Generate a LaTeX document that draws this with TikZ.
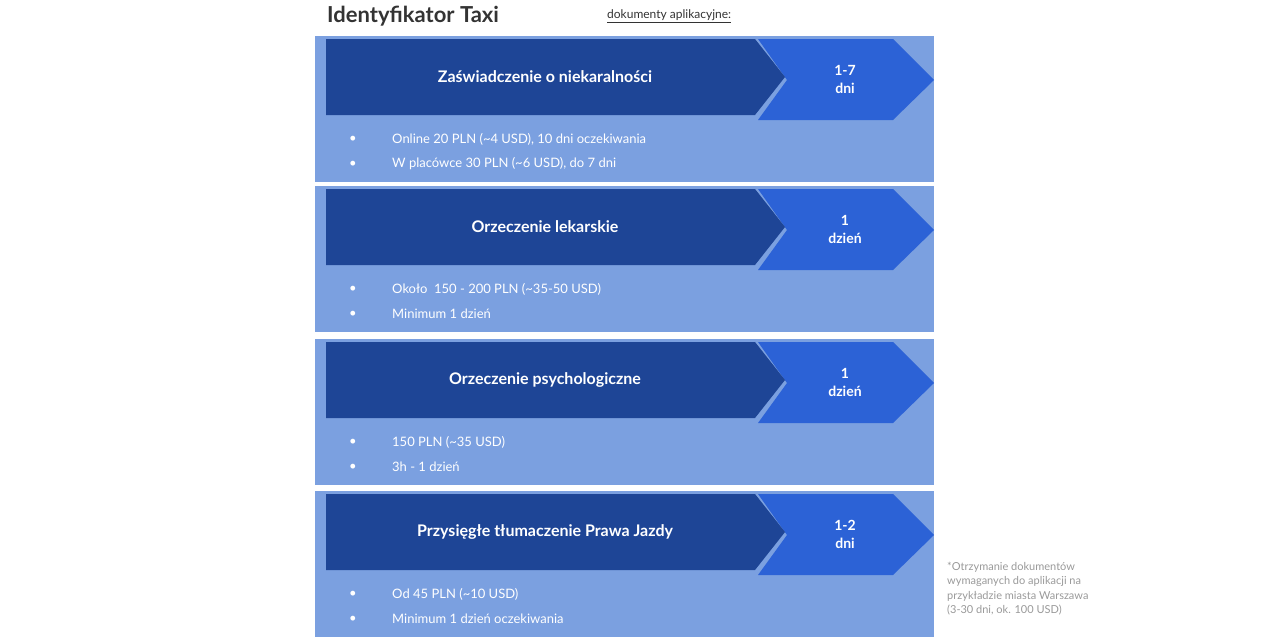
\documentclass[tikz,border=0pt]{standalone}
\usepackage{fontspec}
\setmainfont{Lato}
\usetikzlibrary{positioning}
\definecolor{panelblue}{HTML}{7BA0E0}
\definecolor{darkblue}{HTML}{1E4596}
\definecolor{midblue}{HTML}{2C62D6}
\definecolor{titlegray}{HTML}{333333}
\tikzset{
  headtext/.style={text=white, font=\bfseries\fontsize{16}{19}\selectfont, align=center},
  daystext/.style={text=white, font=\bfseries\fontsize{14}{18}\selectfont, align=center},
  bullettext/.style={text=white, font=\fontsize{13}{16}\selectfont, anchor=west, inner sep=0pt},
}
\begin{document}
\begin{tikzpicture}[x=1pt,y=-1pt]
  \useasboundingbox (0,0) rectangle (1280,640);
  \node[anchor=west, text=titlegray, font=\bfseries\fontsize{22}{26}\selectfont, inner sep=0pt] (title) at (327,16) {Identyfikator Taxi};
  \node[anchor=west, text=titlegray, font=\fontsize{12}{14}\selectfont, inner sep=0pt] (subtitle) at (607,16) {\underline{dokumenty aplikacyjne:}};
  % rows: top y / heading / days / bullet 1 / bullet 2
  \foreach \y/\head/\days/\bA/\bB [count=\i] in {
      36/{Zaświadczenie o niekaralności}/{1-7\\dni}/{Online 20 PLN (\textasciitilde4 USD), 10 dni oczekiwania}/{W placówce 30 PLN (\textasciitilde6 USD), do 7 dni},
      186/{Orzeczenie lekarskie}/{1\\dzień}/{Około\ \ 150 - 200 PLN (\textasciitilde35-50 USD)}/{Minimum 1 dzień},
      339/{Orzeczenie psychologiczne}/{1\\dzień}/{150 PLN (\textasciitilde35 USD)}/{3h - 1 dzień},
      491/{Przysięgłe tłumaczenie Prawa Jazdy}/{1-2\\dni}/{Od 45 PLN (\textasciitilde10 USD)}/{Minimum 1 dzień oczekiwania}} {
    \fill[panelblue] (315,\y) rectangle (934,\y+146);
    \fill[midblue] (758,\y+3) -- (893,\y+3) -- (934,\y+44) -- (893,\y+84) -- (758,\y+84) -- (787,\y+44) -- cycle;
    \fill[darkblue] (326,\y+3) -- (755,\y+3) -- (785,\y+41) -- (755,\y+79) -- (326,\y+79) -- cycle;
    \node[headtext] (head\i) at (545,\y+41) {\head};
    \node[daystext] (days\i) at (845,\y+43) {\days};
    \node[bullettext] (dotA\i) at (349,\y+103) {•};
    \node[bullettext] (bulletA\i) at (392,\y+103) {\bA};
    \node[bullettext] (dotB\i) at (349,\y+128) {•};
    \node[bullettext] (bulletB\i) at (392,\y+128) {\bB};
  }
  \node[anchor=north west, text=gray!80, font=\fontsize{11}{14.5}\selectfont, align=left, inner sep=0pt] (note) at (947,562)
    {*Otrzymanie dokumentów\\wymaganych do aplikacji na\\przykładzie miasta Warszawa\\(3-30 dni, ok. 100 USD)};
\end{tikzpicture}
\end{document}
